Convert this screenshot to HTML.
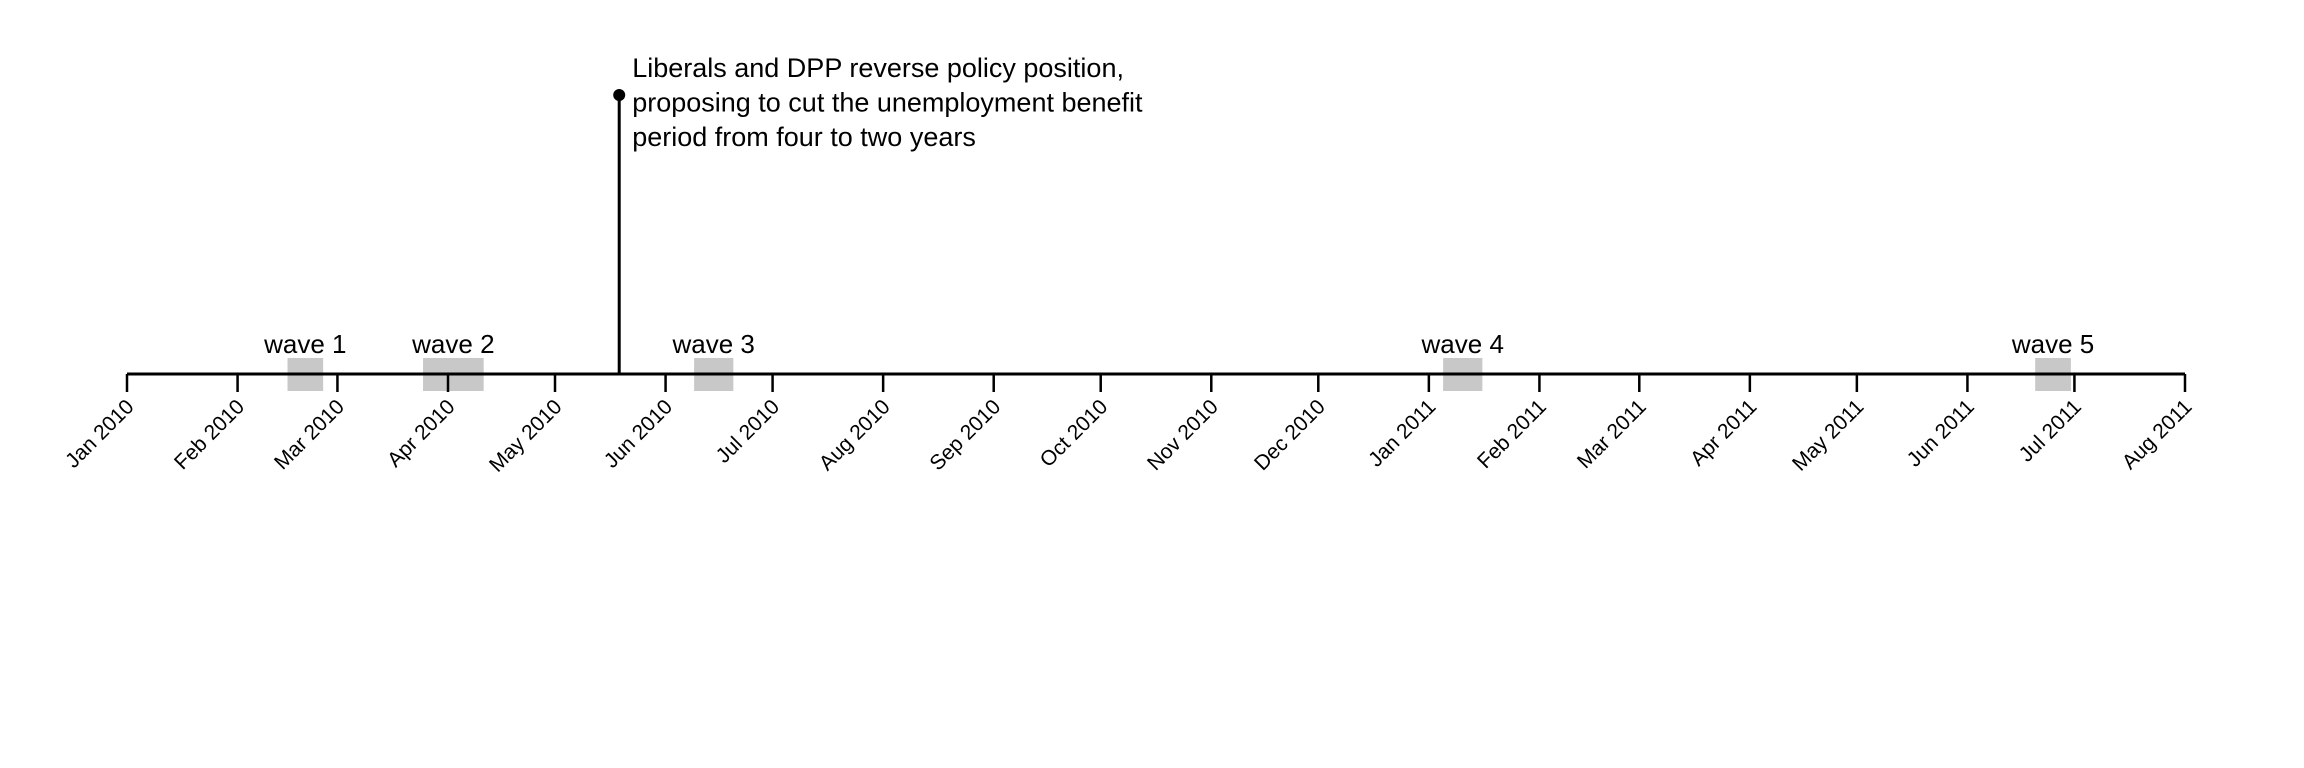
<!DOCTYPE html>
<html><head><meta charset="utf-8"><style>
html,body{margin:0;padding:0;background:#fff;}
svg{display:block;font-family:"Liberation Sans",Arial,sans-serif;}
</style></head><body>
<svg id="chart" width="2304" height="768" viewBox="0 0 2304 768" xmlns="http://www.w3.org/2000/svg"></svg>
<script>
const tickLabels = ["Jan 2010","Feb 2010","Mar 2010","Apr 2010","May 2010","Jun 2010","Jul 2010","Aug 2010","Sep 2010","Oct 2010","Nov 2010","Dec 2010","Jan 2011","Feb 2011","Mar 2011","Apr 2011","May 2011","Jun 2011","Jul 2011","Aug 2011"];
const tickDates = ["2010-01-01","2010-02-01","2010-03-01","2010-04-01","2010-05-01","2010-06-01","2010-07-01","2010-08-01","2010-09-01","2010-10-01","2010-11-01","2010-12-01","2011-01-01","2011-02-01","2011-03-01","2011-04-01","2011-05-01","2011-06-01","2011-07-01","2011-08-01"];
const waveNames = ["wave 1","wave 2","wave 3","wave 4","wave 5"];
const waveStarts = ["2010-02-15","2010-03-25","2010-06-09","2011-01-05","2011-06-20"];
const waveEnds = ["2010-02-25","2010-04-11","2010-06-20","2011-01-16","2011-06-30"];
const eventDate = "2010-05-19";
const eventLines = ["Liberals and DPP reverse policy position,","proposing to cut the unemployment benefit","period from four to two years"];

const NS = "http://www.w3.org/2000/svg";
const svg = document.getElementById("chart");
const D0 = Date.parse("2010-01-01"), D1 = Date.parse("2011-08-01");
const X0 = 127, X1 = 2185, AXIS_Y = 374;
function x(d){ return X0 + (Date.parse(d) - D0) / (D1 - D0) * (X1 - X0); }
function mk(tag, attrs, parent){
  const e = document.createElementNS(NS, tag);
  for (const k in attrs) e.setAttribute(k, attrs[k]);
  (parent || svg).appendChild(e);
  return e;
}

// wave boxes
waveNames.forEach((n, i) => {
  const x1 = x(waveStarts[i]), x2 = x(waveEnds[i]);
  const r = mk("rect", {x: x1, y: 358, width: x2 - x1, height: 33, fill: "#c8c8c8"});
  
  
  const t = mk("text", {x: (x1 + x2) / 2, y: 353, "text-anchor": "middle", "font-size": 26, fill: "#000"});
  t.textContent = n;
  
  
});

// axis line
const ax = mk("line", {x1: X0, x2: X1, y1: AXIS_Y, y2: AXIS_Y, stroke: "#000", "stroke-width": 3});



// ticks and labels
tickDates.forEach((d, i) => {
  const tx = x(d);
  const tk = mk("line", {x1: tx, x2: tx, y1: AXIS_Y, y2: 392, stroke: "#000", "stroke-width": 2.5});
  
  
  const lb = mk("text", {x: tx + 8, y: 408, "text-anchor": "end", "font-size": 21, fill: "#000", transform: "rotate(-45 " + (tx + 8) + " 408)"});
  lb.textContent = tickLabels[i];
  
  
});

// event marker
const ex = x(eventDate);
const el = mk("line", {x1: ex, x2: ex, y1: 95, y2: AXIS_Y, stroke: "#000", "stroke-width": 3});


const ed = mk("circle", {cx: ex, cy: 95, r: 6, fill: "#000"});


const et = mk("text", {x: ex + 13, y: 0, "font-size": 27, fill: "#000"});


eventLines.forEach((s, i) => {
  const sp = mk("tspan", {x: ex + 13, y: 77 + i * 34.5}, et);
  sp.textContent = s;
});
</script>
</body></html>
